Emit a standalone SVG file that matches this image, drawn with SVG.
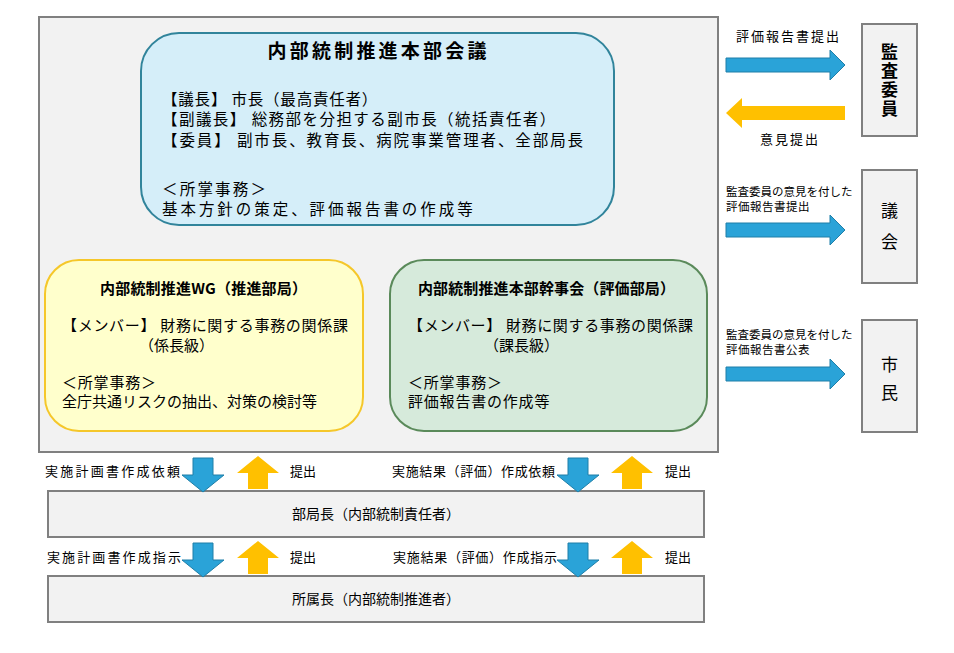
<svg xmlns="http://www.w3.org/2000/svg" width="954" height="653" viewBox="0 0 954 653">
<style>
  text { font-family: "Noto Sans CJK JP", "Noto Sans", sans-serif; fill: #000; }
  .t155 { font-size: 15.5px; }
  .t15 { font-size: 15px; }
  .t14 { font-size: 14px; }
  .t13 { font-size: 13px; }
  .t115 { font-size: 11.5px; }
  .bold { font-weight: 700; }
  .mid { text-anchor: middle; }
  .vert { writing-mode: vertical-rl; text-orientation: upright; text-anchor: middle; font-size: 17px; }
  .gray { fill: #f2f2f2; stroke: #808080; stroke-width: 2; }
  .blueA { fill: #2aa3d8; stroke: #1f7fa8; stroke-width: 1; }
  .yelA { fill: #ffc000; stroke: none; }
</style>
<rect width="954" height="653" fill="#ffffff"/>

<g id="outer">
  <rect class="gray" x="39" y="17" width="679" height="435"/>
</g>

<g id="honbu">
  <rect x="141" y="33" width="473" height="192" rx="38" ry="38" fill="#d5eef9" stroke="#31849b" stroke-width="2"/>
  <text class="bold mid" x="377" y="58" style="font-size:19px" textLength="219" lengthAdjust="spacing">内部統制推進本部会議</text>
  <text class="t155">
    <tspan x="162" y="104.5" style="letter-spacing:0.8px">【議長】 市長（最高責任者）</tspan>
    <tspan x="162" y="125" style="letter-spacing:1.45px">【副議長】 総務部を分担する副市長（統括責任者）</tspan>
    <tspan x="162" y="146" style="letter-spacing:1.9px">【委員】 副市長、教育長、病院事業管理者、全部局長</tspan>
    <tspan x="162" y="194.5" style="letter-spacing:2.2px">＜所掌事務＞</tspan>
    <tspan x="162" y="215" style="letter-spacing:2.95px">基本方針の策定、評価報告書の作成等</tspan>
  </text>
</g>

<g id="wg">
  <rect x="45" y="260" width="318" height="171" rx="34" ry="34" fill="#ffffcc" stroke="#f5c72a" stroke-width="2"/>
  <text class="t15 bold" x="100" y="294" textLength="207" lengthAdjust="spacing">内部統制推進WG（推進部局）</text>
  <text class="t15">
    <tspan x="62" y="331" style="letter-spacing:0.7px">【メンバー】 財務に関する事務の関係課</tspan>
    <tspan x="139" y="351">（係長級）</tspan>
    <tspan x="62" y="388" style="letter-spacing:0.8px">＜所掌事務＞</tspan>
    <tspan x="62" y="407">全庁共通リスクの抽出、対策の検討等</tspan>
  </text>
</g>

<g id="kanjikai">
  <rect x="390" y="260" width="317" height="171" rx="34" ry="34" fill="#d6eadb" stroke="#5a8a5a" stroke-width="2"/>
  <text class="t15 bold" x="418" y="294" textLength="257" lengthAdjust="spacing">内部統制推進本部幹事会（評価部局）</text>
  <text class="t15">
    <tspan x="408" y="331" style="letter-spacing:0.65px">【メンバー】 財務に関する事務の関係課</tspan>
    <tspan x="484" y="351">（課長級）</tspan>
    <tspan x="408" y="388" style="letter-spacing:0.8px">＜所掌事務＞</tspan>
    <tspan x="408" y="407" style="letter-spacing:0.8px">評価報告書の作成等</tspan>
  </text>
</g>

<g id="kansa">
  <rect class="gray" x="862" y="24" width="55" height="112"/>
  <text class="vert bold" x="889.5" y="81" style="letter-spacing:2px">監査委員</text>
</g>

<g id="gikai">
  <rect class="gray" x="862" y="170" width="55" height="113"/>
  <text class="vert" x="889.5" y="233" style="letter-spacing:14px">議会</text>
</g>

<g id="shimin">
  <rect class="gray" x="862" y="320" width="55" height="112"/>
  <text class="vert" x="889.5" y="384" style="letter-spacing:11px">市民</text>
</g>

<g id="bukyokucho">
  <rect class="gray" x="48" y="491" width="656" height="46"/>
  <text class="t14 mid" x="376" y="519">部局長（内部統制責任者）</text>
</g>

<g id="shozokucho">
  <rect class="gray" x="48" y="576" width="656" height="46"/>
  <text class="t14 mid" x="376" y="604">所属長（内部統制推進者）</text>
</g>

<g id="connectors">
  <path class="blueA" d="M726,58 H830 V50 L845,65 L830,80 V72 H726 Z"/>
  <path class="yelA" d="M845,106 H742 V98 L726,113 L742,128 V120 H845 Z"/>
  <path class="blueA" d="M726,223 H830 V215 L845,230 L830,245 V237 H726 Z"/>
  <path class="blueA" d="M726,367 H830 V359 L845,374 L830,389 V381 H726 Z"/>
  <path class="blueA" d="M193,458 H213 V475 H224 L203,492 L182,475 H193 Z"/>
  <path class="yelA" d="M258,456 L279,473 H268 V489 H248 V473 H237 Z"/>
  <path class="blueA" d="M568,458 H588 V475 H599 L578,492 L557,475 H568 Z"/>
  <path class="yelA" d="M632,456 L653,473 H642 V489 H622 V473 H611 Z"/>
  <path class="blueA" d="M193,543 H213 V560 H224 L203,577 L182,560 H193 Z"/>
  <path class="yelA" d="M258,541 L279,558 H268 V574 H248 V558 H237 Z"/>
  <path class="blueA" d="M568,543 H588 V560 H599 L578,577 L557,560 H568 Z"/>
  <path class="yelA" d="M632,541 L653,558 H642 V574 H622 V558 H611 Z"/>
</g>

<g id="labels">
  <text class="t13" x="736" y="41" textLength="103" lengthAdjust="spacing">評価報告書提出</text>
  <text class="t13" x="760" y="144" textLength="58" lengthAdjust="spacing">意見提出</text>
  <text class="t115">
    <tspan x="726" y="196">監査委員の意見を付した</tspan>
    <tspan x="726" y="210.5" style="letter-spacing:0.5px">評価報告書提出</tspan>
  </text>
  <text class="t115">
    <tspan x="726" y="339">監査委員の意見を付した</tspan>
    <tspan x="726" y="353.5" style="letter-spacing:0.5px">評価報告書公表</tspan>
  </text>
  <text class="t13" x="45" y="476" textLength="135" lengthAdjust="spacing">実施計画書作成依頼</text>
  <text class="t13" x="290" y="476">提出</text>
  <text class="t13" x="392" y="476" textLength="163" lengthAdjust="spacing">実施結果（評価）作成依頼</text>
  <text class="t13" x="665" y="476">提出</text>
  <text class="t13" x="47" y="562" textLength="134" lengthAdjust="spacing">実施計画書作成指示</text>
  <text class="t13" x="290" y="562">提出</text>
  <text class="t13" x="393" y="562" textLength="164" lengthAdjust="spacing">実施結果（評価）作成指示</text>
  <text class="t13" x="665" y="562">提出</text>
</g>
</svg>
